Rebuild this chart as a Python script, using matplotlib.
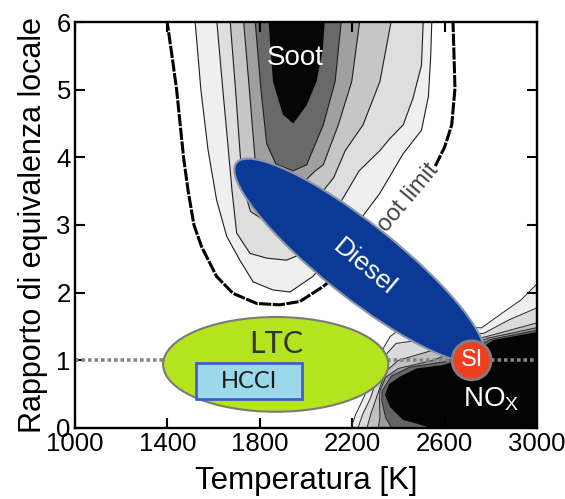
import matplotlib
matplotlib.use('Agg')
import matplotlib.pyplot as plt
from matplotlib.patches import Polygon, Ellipse, Rectangle
from matplotlib.transforms import ScaledTranslation

plt.rcParams['font.family'] = ['Liberation Sans', 'DejaVu Sans']
plt.rcParams['mathtext.default'] = 'regular'

# ---------------- data ----------------
x_ticks = [1000, 1400, 1800, 2200, 2600, 3000]
y_ticks = [0, 1, 2, 3, 4, 5, 6]

# soot contours (T [K], phi), outer -> inner
soot_limit = [(1397, 6.05), (1420, 5.5), (1440, 5.0), (1455, 4.5), (1470, 4.0), (1490, 3.5),
              (1515, 3.0), (1548, 2.68), (1613, 2.24), (1684, 1.99), (1787, 1.84), (1887, 1.82),
              (1974, 1.87), (2074, 2.09), (2200, 2.45), (2320, 2.88), (2420, 3.3), (2500, 3.6),
              (2558, 3.86), (2600, 4.15), (2631, 4.48), (2645, 5.02), (2640, 5.6), (2636, 6.05)]
soot_c2 = [(1519, 6.05), (1545, 5.0), (1576, 4.11), (1613, 3.37), (1657, 2.83), (1714, 2.48),
           (1771, 2.16), (1857, 2.04), (1931, 2.01), (2030, 2.24), (2150, 2.7), (2250, 3.15),
           (2320, 3.47), (2420, 4.05), (2500, 4.4), (2530, 4.9), (2540, 5.5), (2545, 6.05)]
soot_c3 = [(1613, 6.05), (1640, 5.0), (1664, 4.11), (1680, 3.5), (1700, 2.88), (1758, 2.58),
           (1830, 2.51), (1916, 2.48), (2000, 2.6), (2100, 3.0), (2147, 3.32), (2230, 3.8),
           (2320, 4.1), (2364, 4.28), (2421, 4.48), (2463, 4.87), (2500, 5.36), (2508, 6.05)]
soot_c4 = [(1671, 6.05), (1695, 5.0), (1714, 4.1), (1725, 3.6), (1760, 3.2), (1850, 3.0),
           (1950, 3.1), (2050, 3.4), (2120, 3.7), (2170, 4.1), (2247, 4.48), (2320, 5.12),
           (2371, 6.05)]
soot_c5 = [(1729, 6.05), (1755, 5.0), (1779, 4.0), (1800, 3.6), (1880, 3.45), (1980, 3.6),
           (2040, 3.8), (2075, 3.89), (2140, 4.48), (2198, 5.12), (2234, 6.05)]
soot_c6 = [(1779, 6.05), (1805, 5.0), (1830, 4.2), (1870, 3.9), (1944, 3.8), (2003, 3.89),
           (2075, 4.48), (2126, 5.12), (2154, 6.05)]
soot_core = [(1837, 6.05), (1857, 5.12), (1900, 4.63), (1945, 4.50), (2003, 4.77),
             (2046, 5.12), (2073, 5.6), (2082, 6.05)]

# NOx contours, outer -> inner
nox_c1 = [(2190, -0.05), (2215, 0.2), (2250, 0.45), (2277, 0.66), (2300, 0.9), (2330, 1.15),
          (2364, 1.35), (2420, 1.5), (2600, 1.5), (2760, 1.48), (2850, 1.7), (2930, 1.89),
          (3050, 2.3), (3050, -0.05)]
nox_c2 = [(2220, -0.05), (2245, 0.2), (2280, 0.45), (2300, 0.66), (2325, 0.9), (2350, 1.1),
          (2390, 1.25), (2600, 1.35), (2770, 1.4), (2880, 1.6), (3050, 1.85), (3050, -0.05)]
nox_c3 = [(2260, -0.05), (2280, 0.2), (2305, 0.45), (2322, 0.62), (2350, 0.85), (2400, 1.0),
          (2600, 1.2), (2780, 1.35), (3050, 1.6), (3050, -0.05)]
nox_c4 = [(2310, -0.05), (2320, 0.15), (2318, 0.4), (2320, 0.55), (2345, 0.75), (2400, 0.88),
          (2550, 1.0), (2790, 1.33), (3050, 1.52), (3050, -0.05)]
nox_c5 = [(2380, -0.05), (2345, 0.15), (2328, 0.4), (2330, 0.55), (2370, 0.77), (2450, 0.9),
          (2600, 0.98), (2800, 1.31), (3050, 1.48), (3050, -0.05)]
nox_core = [(2524, -0.05), (2524, 0.02), (2420, 0.12), (2364, 0.31), (2342, 0.49), (2360, 0.65),
            (2407, 0.76), (2479, 0.88), (2594, 0.93), (2700, 1.05), (2811, 1.30), (3050, 1.45),
            (3050, -0.05)]

stoich_phi = 1.0
ltc_center = (1869, 0.94)
ltc_span = (975, 1.40)
hcci_T = (1524, 1984)
hcci_phi = (0.424, 0.955)
diesel_center = (2231, 2.475)
si_center = (2717, 1.0)

# ---------------- figure ----------------
fig = plt.figure(figsize=(5.65, 4.99), dpi=100)
ax = fig.add_axes([0.1327, 0.1423, 0.8177, 0.8136])
ax.set_xlim(1000, 3000)
ax.set_ylim(0, 6)

soot_levels = [soot_limit, soot_c2, soot_c3, soot_c4, soot_c5, soot_c6, soot_core]
soot_fills = ['#ffffff', '#efefef', '#dedede', '#c6c6c6', '#a0a0a0', '#696969', '#060606']
for pts, fc in zip(soot_levels, soot_fills):
    ax.add_patch(Polygon(pts, closed=True, facecolor=fc, edgecolor='none', zorder=1))
for pts in soot_levels[1:6]:
    xs, ys = zip(*pts)
    ax.plot(xs, ys, color='#1e1e1e', lw=0.8, zorder=2)
xs, ys = zip(*soot_limit)
ax.plot(xs, ys, color='#000000', lw=2.2, ls=(0, (4, 0.5)), zorder=2)

nox_levels = [nox_c1, nox_c2, nox_c3, nox_c4, nox_c5, nox_core]
nox_fills = ['#efefef', '#dadada', '#c0c0c0', '#9c9c9c', '#646464', '#040404']
for pts, fc in zip(nox_levels, nox_fills):
    ax.add_patch(Polygon(pts, closed=True, facecolor=fc, edgecolor='none', zorder=1))
for pts in nox_levels[:5]:
    xs, ys = zip(*pts[:-1])
    ax.plot(xs, ys, color='#2a2a2a', lw=0.7, zorder=2)

ax.plot([1000, 3000], [stoich_phi, stoich_phi], color='#858585', lw=2.6,
        ls=(0, (1, 0.8)), zorder=3)

ax.text(2428, 3.33, 'soot limit', rotation=50, rotation_mode='anchor', ha='center',
        va='center', fontsize=17, color='#444444', zorder=4,
        bbox=dict(facecolor='white', edgecolor='none', pad=0.4))

ax.add_patch(Ellipse(ltc_center, ltc_span[0], ltc_span[1], facecolor='#b4e41e',
                     edgecolor='#7a7a7a', lw=1.5, zorder=5))
ax.text(1870, 1.24, 'LTC', fontsize=22, family=['Lato', 'DejaVu Sans'], color='#333333',
        ha='center', va='center', zorder=6)
ax.add_patch(Rectangle((hcci_T[0], hcci_phi[0]), hcci_T[1] - hcci_T[0],
                       hcci_phi[1] - hcci_phi[0], facecolor='#9ad8ea',
                       edgecolor='#3f5fd0', lw=2, zorder=6))
ax.text(1752, 0.68, 'HCCI', fontsize=17, family=['Lato', 'DejaVu Sans'], color='#1a1a1a',
        ha='center', va='center', zorder=7)

diesel_tr = fig.dpi_scale_trans + ScaledTranslation(diesel_center[0], diesel_center[1],
                                                    ax.transData)
ax.add_patch(Ellipse((0, 0), 3.14, 0.74, angle=-38.5, transform=diesel_tr,
                     facecolor='#0a3a96', edgecolor='#8a95a8', lw=1.5, zorder=8))
ax.text(2252, 2.37, 'Diesel', rotation=-40, rotation_mode='anchor', ha='center',
        va='center', fontsize=19, color='white', zorder=9)

si_tr = fig.dpi_scale_trans + ScaledTranslation(si_center[0], si_center[1], ax.transData)
ax.add_patch(Ellipse((0, 0), 0.39, 0.39, transform=si_tr, facecolor='#ee4020',
                     edgecolor='#7f7f7f', lw=2, zorder=10))
ax.text(si_center[0], si_center[1], 'SI', fontsize=17, color='white', ha='center',
        va='center', zorder=11)

ax.text(1952, 5.47, 'Soot', fontsize=20, color='white', ha='center', va='center', zorder=4)
ax.text(2800, 0.42, 'NO$_\\mathregular{X}$', fontsize=20, color='white', ha='center',
        va='center', zorder=4)

ax.set_xticks(x_ticks)
ax.set_yticks(y_ticks)
ax.tick_params(direction='in', length=7, width=1.5, top=True, right=True,
               labelsize=18.5, pad=3)
for s in ax.spines.values():
    s.set_linewidth(1.7)
    s.set_zorder(12)
ax.set_xlabel('Temperatura [K]', fontsize=22.5, labelpad=7)
ax.set_ylabel('Rapporto di equivalenza locale', fontsize=22, labelpad=6)

fig.savefig('out.png', dpi=100)
